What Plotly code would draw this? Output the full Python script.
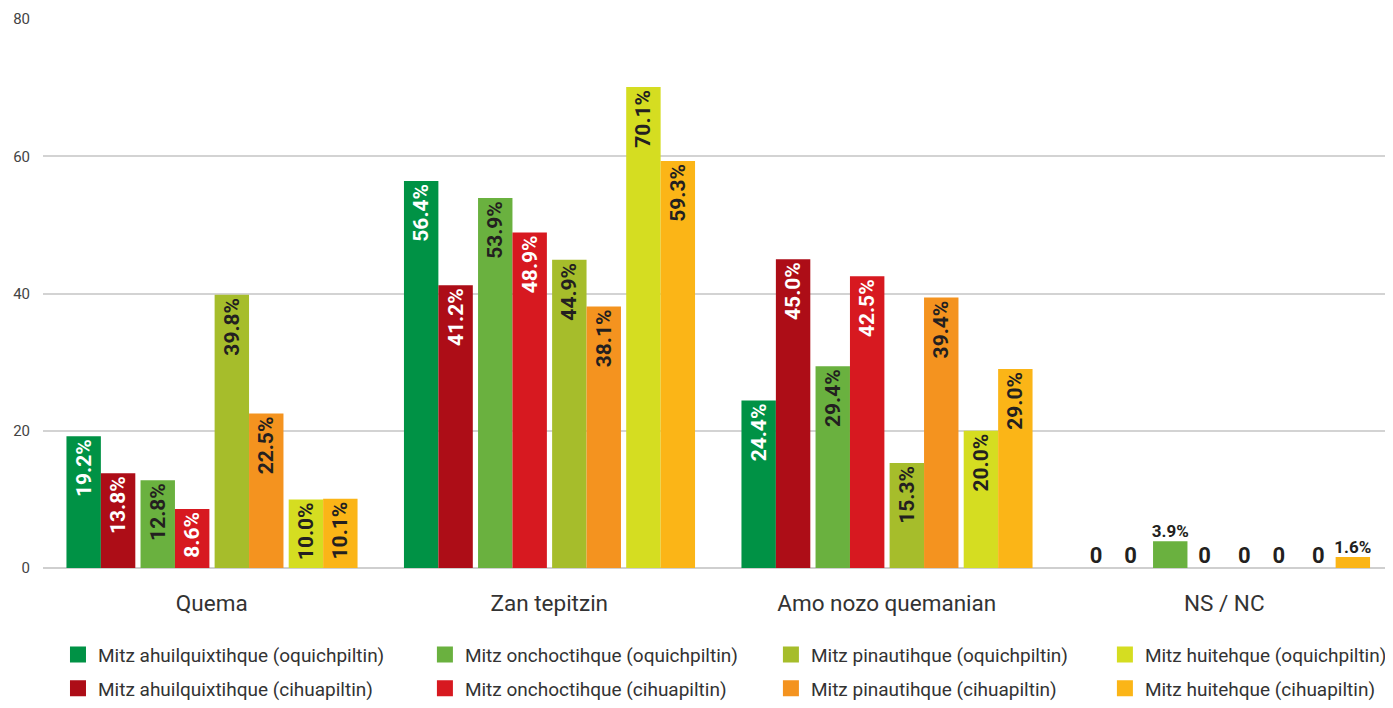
import plotly.graph_objects as go

categories = ["Quema", "Zan tepitzin", "Amo nozo quemanian", "NS / NC"]
series_names = [
    "Mitz ahuilquixtihque (oquichpiltin)",
    "Mitz ahuilquixtihque (cihuapiltin)",
    "Mitz onchoctihque (oquichpiltin)",
    "Mitz onchoctihque (cihuapiltin)",
    "Mitz pinautihque (oquichpiltin)",
    "Mitz pinautihque (cihuapiltin)",
    "Mitz huitehque (oquichpiltin)",
    "Mitz huitehque (cihuapiltin)",
]
ahuil_oquich = [19.2, 56.4, 24.4, 0]
ahuil_cihua = [13.8, 41.2, 45.0, 0]
onch_oquich = [12.8, 53.9, 29.4, 3.9]
onch_cihua = [8.6, 48.9, 42.5, 0]
pin_oquich = [39.8, 44.9, 15.3, 0]
pin_cihua = [22.5, 38.1, 39.4, 0]
huit_oquich = [10.0, 70.1, 20.0, 0]
huit_cihua = [10.1, 59.3, 29.0, 1.6]
series_values = [ahuil_oquich, ahuil_cihua, onch_oquich, onch_cihua,
                 pin_oquich, pin_cihua, huit_oquich, huit_cihua]

colors = ["#009245", "#AD0D17", "#6AB13F", "#D71920",
          "#A6BD2B", "#F4931F", "#D5DD21", "#FBB517"]
text_colors = ["white", "white", "#231F20", "white",
               "#231F20", "#231F20", "#231F20", "#231F20"]

DARK = "#231F20"
FONT = "Roboto, Liberation Sans, sans-serif"

fig = go.Figure()

w = 0.102
g = 0.0155
base = -0.4305
xs = list(range(len(categories)))
last = len(categories) - 1
legend_ids = ["legend", "legend2", "legend3", "legend4"]

for i, (name, vals) in enumerate(zip(series_names, series_values)):
    p, j = divmod(i, 2)
    off = base + p * (2 * w + g) + j * w
    texts = [f"{v:.1f}%" if k != last else "" for k, v in enumerate(vals)]
    fig.add_trace(go.Bar(
        x=xs, y=vals, name=name, offset=off, width=w,
        marker=dict(color=colors[i], line=dict(width=0)),
        text=texts, textposition="inside", insidetextanchor="end",
        textangle=-90,
        textfont=dict(family=FONT, size=21, color=text_colors[i], weight="bold"),
        showlegend=False, hoverinfo="skip",
    ))
    # horizontal labels for the last category
    v = vals[last]
    fig.add_trace(go.Scatter(
        x=[last + off + w / 2], y=[v], mode="text",
        text=[f"{v:.1f}%" if v else "0"], textposition="top center",
        textfont=dict(family=FONT, size=17 if v else 22, color=DARK, weight="bold"),
        showlegend=False, hoverinfo="skip", cliponaxis=False,
    ))
    # legend proxy
    fig.add_trace(go.Scatter(
        x=[None], y=[None], mode="markers", name=name,
        marker=dict(symbol="square", size=20, color=colors[i]),
        legend=legend_ids[p], legendgroup=f"g{i}", showlegend=True,
    ))

legend_x = [0.0111, 0.2829, 0.5392, 0.7866]
legend_common = dict(
    orientation="v", xanchor="left", y=-0.2545, yanchor="bottom",
    itemsizing="trace", bgcolor="rgba(0,0,0,0)", tracegroupgap=6,
    font=dict(family=FONT, size=19, color="#333333"),
    traceorder="grouped",
)

fig.update_layout(
    width=1385, height=700,
    margin=dict(l=35, r=0, t=11, b=140),
    paper_bgcolor="white", plot_bgcolor="white",
    barmode="overlay",
    uniformtext=dict(minsize=20, mode="show"),
    font=dict(family=FONT, color="#333333"),
    xaxis=dict(
        range=[-0.5, 3.5], tickvals=xs, ticktext=categories,
        showgrid=False, zeroline=False, showline=False, automargin=False,
        tickfont=dict(family=FONT, size=22.5, color="#333333"),
        ticks="", ticklabelstandoff=19,
    ),
    yaxis=dict(
        range=[0, 80], dtick=20, showgrid=True, gridcolor="#D3D3D3", gridwidth=1.5,
        zeroline=True, zerolinecolor="#CFCFCF", zerolinewidth=1.5, automargin=False,
        tickfont=dict(family=FONT, size=15, color="#444444"),
        ticklabelstandoff=12,
    ),
    legend=dict(x=legend_x[0], **legend_common),
    legend2=dict(x=legend_x[1], **legend_common),
    legend3=dict(x=legend_x[2], **legend_common),
    legend4=dict(x=legend_x[3], **legend_common),
)

fig.write_html("out.html")
